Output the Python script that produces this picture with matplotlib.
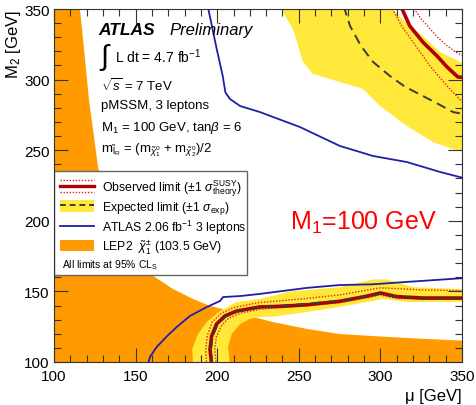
import matplotlib
matplotlib.use("Agg")
import matplotlib.pyplot as plt
import numpy as np
from matplotlib.lines import Line2D
from matplotlib.patches import Patch, Rectangle
from matplotlib.legend_handler import HandlerBase, HandlerTuple
from matplotlib.ticker import MultipleLocator

plt.rcParams["font.family"] = ["Liberation Sans", "DejaVu Sans"]
plt.rcParams["mathtext.fontset"] = "custom"
plt.rcParams["mathtext.rm"] = "Liberation Sans"
plt.rcParams["mathtext.it"] = "Liberation Sans:italic"
plt.rcParams["mathtext.bf"] = "Liberation Sans:bold"

# LEP2 chargino limit (region below/left of this edge is excluded)
lep_mu = [115.5, 115.9, 117.3, 119.4, 121.4, 124.1, 127.1, 133, 140, 150, 160.7, 172.9, 185.2,
          195.6, 205, 215, 225, 234, 255, 275, 295, 316, 352]
lep_m2 = [352, 350, 334, 310, 286, 263, 237, 218, 196, 175, 161, 151.7, 144.6,
          139.7, 137, 134, 131, 128.3, 123.4, 119.8, 118.4, 117, 115]

# ATLAS 2.06 fb-1 contour, low and high M2 branches
atl_lo_mu = [157.4, 158.8, 162.9, 169, 175.2, 183.3, 193.6, 201.7, 203.6, 214, 226, 255, 275, 295, 316, 352]
atl_lo_m2 = [98, 103.5, 110.6, 118, 124.8, 132.6, 138.9, 143.2, 146, 146.7, 148.2, 152.5, 154.5, 155, 156.7, 159.5]
atl_hi_mu = [194.2, 199.7, 203.4, 205, 207.8, 214, 226.2, 250.7, 275.2, 295.5, 316.3, 336.5, 352]
atl_hi_m2 = [352, 321.7, 302.5, 291, 286.3, 281.3, 277, 266.4, 253, 245.9, 241.6, 234.6, 230]

# expected +-1 sigma band, low M2 part (outer and inner edge)
exp_lo_out_mu = [185.2, 184.7, 188.2, 193.6, 201.7, 211.9, 226, 245, 275, 295.5, 304, 320, 352]
exp_lo_out_m2 = [98, 109.2, 119.8, 128.3, 136.1, 142.5, 144.6, 150, 153, 158.5, 158.5, 153, 151.5]
exp_lo_in_mu = [207.8, 206.6, 208.9, 214, 220, 226, 234, 255, 275, 292, 301.6, 316, 352]
exp_lo_in_m2 = [98, 110.6, 119.8, 126.9, 130.5, 131.9, 132, 135.4, 139, 142.5, 144.6, 142.5, 142.5]
# expected band, high M2 part
exp_hi_out_mu = [238, 246.4, 252.6, 258.7, 275.2, 289.3, 299.8, 316.3, 332.2, 344.5, 352]
exp_hi_out_m2 = [352, 335.8, 312.5, 304, 298.3, 293.4, 281.3, 267.1, 255.8, 250.8, 249.4]
exp_hi_in_mu = [306, 315, 326, 336.5, 348.8, 352]
exp_hi_in_m2 = [352, 341, 330.9, 319.6, 312.5, 312]

# expected limit (dashed)
exp_lo_mu = [197, 196.2, 197.2, 200.2, 205.3, 212.5, 226, 245, 255, 275, 292, 300, 310, 326, 352]
exp_lo_m2 = [98, 109, 118.2, 126.5, 132.2, 135.8, 138.8, 140.3, 141.3, 143.3, 146.5, 148.5, 146, 145, 145]
exp_hi_mu = [277.5, 281.4, 288, 295.5, 305.9, 315, 326, 335, 344.5, 352]
exp_hi_m2 = [352, 338, 324, 312.5, 302.5, 295, 288.4, 283, 277, 275.5]

# observed limit and its theory +-1 sigma lines
obs_lo_mu = [196.6, 195.6, 196.6, 199.6, 204.7, 211.9, 226, 240, 255, 275, 292, 300, 310, 326, 352]
obs_lo_m2 = [98, 109, 118.4, 126.9, 132.6, 136.1, 139, 139.5, 140.5, 143, 146.7, 148.9, 146.3, 145.3, 145.3]
obs_lo_up_mu = [193.5, 193, 194, 197, 202.5, 210, 225, 245, 255, 275, 292, 300, 310, 326, 352]
obs_lo_up_m2 = [98, 109, 119, 128.5, 134.5, 138.5, 142, 144, 145, 147.5, 151, 152.5, 152, 151, 150.5]
obs_lo_dn_mu = [199.5, 198.5, 199.5, 202.5, 207, 214, 227, 245, 255, 275, 292, 300, 310, 326, 352]
obs_lo_dn_m2 = [98, 109, 118, 125.5, 131, 134.5, 137.5, 139, 140, 142, 145.5, 147.5, 145, 144.5, 144.5]
obs_hi_mu = [312.5, 318, 326, 334.7, 340.8, 347.5, 352]
obs_hi_m2 = [352, 338, 326.6, 316.7, 309, 301.8, 301.5]
obs_hi_up_mu = [319.5, 325, 330.4, 335, 340.8, 346, 352]
obs_hi_up_m2 = [352, 343, 336, 330, 324, 319.5, 316]
obs_hi_dn_mu = [306.5, 313, 320, 330.4, 340.8, 352]
obs_hi_dn_m2 = [352, 338, 326.6, 309.6, 295.5, 282]

ORANGE = "#ff9a00"
YELLOW = "#ffe83a"
BLUE = "#1f1fa8"
DARKRED = "#b00000"
RED = "#e02020"
DASH = "#3a3a3a"

fig = plt.figure(figsize=(4.76, 4.06), dpi=100)
ax = fig.add_axes([54 / 476, 43 / 406, 408 / 476, 353 / 406])

# LEP2 excluded area
ax.fill(np.r_[98, 98, lep_mu, 352, 352], np.r_[98, 352, lep_m2, lep_m2[-1], 98],
        color=ORANGE, lw=0, zorder=1)

# yellow bands
ax.fill(np.r_[exp_lo_out_mu, exp_lo_in_mu[::-1]], np.r_[exp_lo_out_m2, exp_lo_in_m2[::-1]],
        color=YELLOW, lw=0, zorder=2)
ax.fill(np.r_[exp_hi_out_mu, exp_hi_in_mu[::-1]], np.r_[exp_hi_out_m2, exp_hi_in_m2[::-1]],
        color=YELLOW, lw=0, zorder=2)

# ATLAS 2.06 fb-1
for xs, ys in [(atl_lo_mu, atl_lo_m2), (atl_hi_mu, atl_hi_m2)]:
    ax.plot(xs, ys, color=BLUE, lw=1.3, zorder=3)

# observed + theory lines
for xs, ys in [(obs_lo_up_mu, obs_lo_up_m2), (obs_lo_dn_mu, obs_lo_dn_m2),
               (obs_hi_up_mu, obs_hi_up_m2), (obs_hi_dn_mu, obs_hi_dn_m2)]:
    ax.plot(xs, ys, color=RED, lw=1.0, ls=(0, (1, 1.2)), zorder=4)
for xs, ys in [(obs_lo_mu, obs_lo_m2), (obs_hi_mu, obs_hi_m2)]:
    ax.plot(xs, ys, color=DARKRED, lw=2.6, zorder=5, solid_joinstyle="round")

# expected
for xs, ys in [(exp_lo_mu, exp_lo_m2), (exp_hi_mu, exp_hi_m2)]:
    ax.plot(xs, ys, color=DASH, lw=1.4, ls=(0, (5, 3)), zorder=6)

ax.set_xlim(100, 350)
ax.set_ylim(100, 350)
ax.xaxis.set_major_locator(MultipleLocator(50))
ax.xaxis.set_minor_locator(MultipleLocator(10))
ax.yaxis.set_major_locator(MultipleLocator(50))
ax.yaxis.set_minor_locator(MultipleLocator(10))
ax.tick_params(which="both", direction="in", top=True, right=True, color="#333333", labelsize=11)
ax.tick_params(which="major", length=10, width=0.8)
ax.tick_params(which="minor", length=5, width=0.8)
ax.tick_params(axis="x", which="major", pad=5)
ax.tick_params(axis="y", which="major", pad=3)
for s in ax.spines.values():
    s.set_color("#333333")
    s.set_zorder(10)
ax.set_axisbelow(False)

ax.set_xlabel("μ [GeV]", loc="right", fontsize=12)
ax.set_ylabel("M$_2$ [GeV]", loc="top", fontsize=12, labelpad=1)


class ObsHandler(HandlerBase):
    # thick observed line with a dotted line above and below
    def create_artists(self, legend, orig_handle, xdescent, ydescent, width, height, fontsize, trans):
        out = []
        x = [-xdescent, width - xdescent]
        for fy, lw, ls, c in [(1.0, 1.0, (0, (1, 1.2)), RED), (0.5, 2.4, "-", DARKRED),
                              (0.0, 1.0, (0, (1, 1.2)), RED)]:
            y = -ydescent + fy * height
            out.append(Line2D(x, [y, y], color=c, lw=lw, ls=ls, transform=trans))
        return out


h_obs = Line2D([], [])
h_exp = (Patch(color=YELLOW, lw=0), Line2D([], [], color=DASH, lw=1.4, ls=(0, (3, 2))))
h_atl = Line2D([], [], color=BLUE, lw=1.3)
h_lep = Patch(color=ORANGE, lw=0)

ax.add_patch(Rectangle((0, 0.246), 0.473, 0.295, transform=ax.transAxes, fc="white",
                       ec="#666666", lw=1.0, zorder=7))
leg = ax.legend([h_obs, h_exp, h_atl, h_lep],
                ["Observed limit ($\\pm$1 $\\sigma^{\\mathrm{SUSY}}_{\\mathrm{theory}}$)",
                 "Expected limit ($\\pm$1 $\\sigma_{\\mathrm{exp}}$)",
                 "ATLAS 2.06 fb$^{-1}$ 3 leptons",
                 "LEP2  $\\tilde{\\chi}_1^{\\pm}$ (103.5 GeV)"],
                handler_map={h_obs: ObsHandler(), tuple: HandlerTuple(ndivide=1)},
                loc="upper left", bbox_to_anchor=(0.0, 0.541), borderaxespad=0,
                frameon=False, fontsize=8.8, handlelength=2.8, handleheight=1.05,
                handletextpad=0.6, labelspacing=0.12, borderpad=0.5)
leg.set_zorder(8)
ax.text(0.02, 0.278, "All limits at 95% CL$_{\\mathrm{S}}$", transform=ax.transAxes,
        fontsize=7.5, va="center", zorder=9)

# labels in the upper left
ax.text(0.108, 0.943, "ATLAS", transform=ax.transAxes, fontsize=12.5, fontweight="bold",
        fontstyle="italic", va="center")
ax.text(0.284, 0.943, "Preliminary", transform=ax.transAxes, fontsize=12,
        fontstyle="italic", va="center")
ax.text(0.113, 0.867, "∫", transform=ax.transAxes, fontsize=21, va="center")
ax.text(0.150, 0.867, "L dt = 4.7 fb$^{-1}$", transform=ax.transAxes, fontsize=10, va="center")
ax.text(0.114, 0.785, "$\\sqrt{s}$ = 7 TeV", transform=ax.transAxes, fontsize=9.5, va="center")
ax.text(0.114, 0.728, "pMSSM, 3 leptons", transform=ax.transAxes, fontsize=9.5, va="center")
ax.text(0.114, 0.667, "M$_1$ = 100 GeV, tan$\\beta$ = 6", transform=ax.transAxes,
        fontsize=9.5, va="center")
ax.text(0.114, 0.603,
        "m$_{\\tilde{\\mathrm{l}}_{\\mathrm{R}}}$ = (m$_{\\tilde{\\chi}_1^0}$ + m$_{\\tilde{\\chi}_2^0}$)/2",
        transform=ax.transAxes, fontsize=9.5, va="center")

ax.text(0.578, 0.397, "M$_1$=100 GeV", transform=ax.transAxes, fontsize=18, color="#ff0000",
        va="center")

fig.savefig("out.png", dpi=100)
